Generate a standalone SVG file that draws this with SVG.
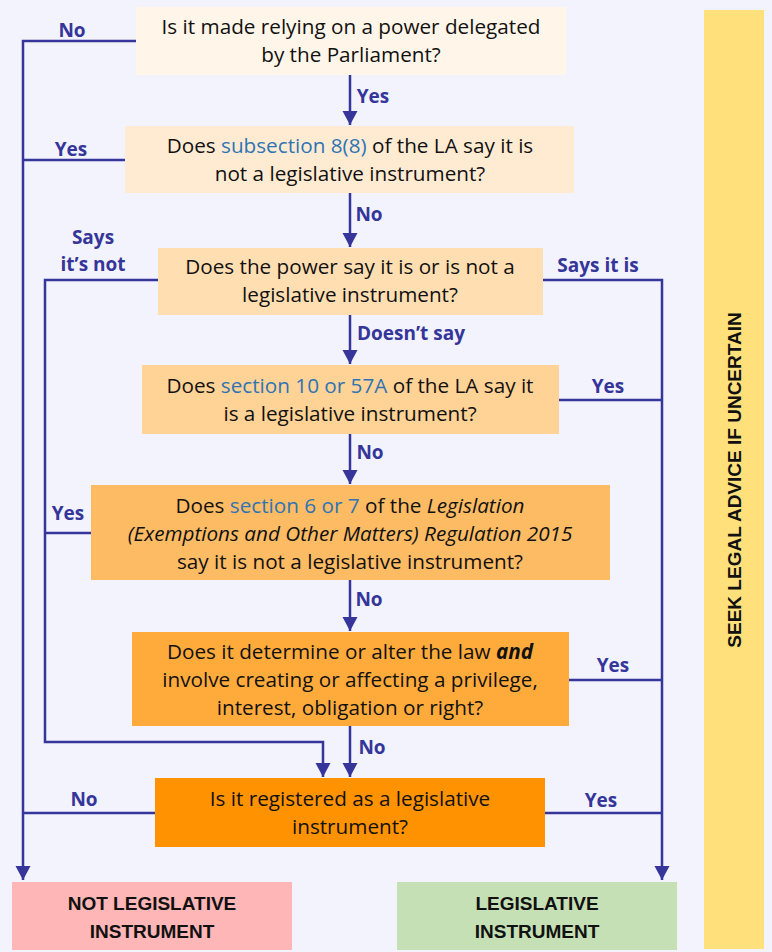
<svg xmlns="http://www.w3.org/2000/svg" width="772" height="952" viewBox="0 0 772 952">
<style>
.q{font-family:"Open Sans","Liberation Sans",Arial,sans-serif;font-size:20.7px;fill:#111;text-anchor:middle}
.lnk{fill:#2E74B5}
.lbl{font-family:"Open Sans","Liberation Sans",Arial,sans-serif;font-size:19px;font-weight:bold;fill:#35359A;text-anchor:middle}
.res{font-family:"Liberation Sans",Arial,sans-serif;font-size:19px;font-weight:bold;fill:#111;text-anchor:middle}
.c{fill:none;stroke:#35359A;stroke-width:2.5}
</style>
<defs>
<marker id="ah" markerUnits="userSpaceOnUse" markerWidth="16" markerHeight="16" refX="14" refY="7.5" orient="auto">
<path d="M0,0 L14,7.5 L0,15 Z" fill="#35359A"/>
</marker>
</defs>
<rect width="772" height="952" fill="#F2F3FC"/>
<g id="advice">
<rect x="704" y="10" width="60" height="939" fill="#FFE07A"/>
<text class="res" transform="translate(741,480) rotate(-90)" font-size="18">SEEK LEGAL ADVICE IF UNCERTAIN</text>
</g>
<g id="connectors">
<path class="c" d="M350,75 V125" marker-end="url(#ah)"/>
<path class="c" d="M350,193 V247" marker-end="url(#ah)"/>
<path class="c" d="M350,315 V364" marker-end="url(#ah)"/>
<path class="c" d="M350,434 V484" marker-end="url(#ah)"/>
<path class="c" d="M350,580 V631" marker-end="url(#ah)"/>
<path class="c" d="M350,726 V777" marker-end="url(#ah)"/>
<path class="c" d="M136,41 H23 V880" marker-end="url(#ah)"/>
<path class="c" d="M125,160 H23"/>
<path class="c" d="M155,813 H23"/>
<path class="c" d="M158,280 H45 V742 H323 V777" marker-end="url(#ah)"/>
<path class="c" d="M91,533 H45"/>
<path class="c" d="M543,280 H662 V880" marker-end="url(#ah)"/>
<path class="c" d="M559,400 H662"/>
<path class="c" d="M569,680 H662"/>
<path class="c" d="M545,813 H662"/>
<text class="lbl" x="72" y="37">No</text>
<text class="lbl" x="373" y="103">Yes</text>
<text class="lbl" x="71" y="156">Yes</text>
<text class="lbl" x="369" y="221">No</text>
<text class="lbl" x="93" y="244">Says</text>
<text class="lbl" x="93" y="271">it’s not</text>
<text class="lbl" x="598" y="272">Says it is</text>
<text class="lbl" x="411" y="340">Doesn’t say</text>
<text class="lbl" x="608" y="393">Yes</text>
<text class="lbl" x="370" y="459">No</text>
<text class="lbl" x="68" y="520">Yes</text>
<text class="lbl" x="369" y="606">No</text>
<text class="lbl" x="613" y="672">Yes</text>
<text class="lbl" x="372" y="754">No</text>
<text class="lbl" x="84" y="806">No</text>
<text class="lbl" x="601" y="807">Yes</text>
</g>
<g id="q1">
<rect x="136" y="7" width="430" height="68" fill="#FFF5E8"/>
<text class="q" x="351" y="34">Is it made relying on a power delegated</text>
<text class="q" x="351" y="62">by the Parliament?</text>
</g>
<g id="q2">
<rect x="125" y="126" width="449" height="67" fill="#FFEBD2"/>
<text class="q" x="350" y="153">Does <tspan class="lnk">subsection 8(8)</tspan> of the LA say it is</text>
<text class="q" x="350" y="181">not a legislative instrument?</text>
</g>
<g id="q3">
<rect x="158" y="248" width="385" height="67" fill="#FFDFB2"/>
<text class="q" x="350" y="274">Does the power say it is or is not a</text>
<text class="q" x="350" y="302">legislative instrument?</text>
</g>
<g id="q4">
<rect x="142" y="365" width="417" height="69" fill="#FFD295"/>
<text class="q" x="350" y="393">Does <tspan class="lnk">section 10 or 57A</tspan> of the LA say it</text>
<text class="q" x="350" y="421">is a legislative instrument?</text>
</g>
<g id="q5">
<rect x="91" y="485" width="519" height="95" fill="#FDBB64"/>
<text class="q" x="350" y="513">Does <tspan class="lnk">section 6 or 7</tspan> of the <tspan font-style="italic">Legislation</tspan></text>
<text class="q" x="350" y="541" font-style="italic">(Exemptions and Other Matters) Regulation 2015</text>
<text class="q" x="350" y="569">say it is not a legislative instrument?</text>
</g>
<g id="q6">
<rect x="132" y="632" width="437" height="94" fill="#FFAB3C"/>
<text class="q" x="350" y="659">Does it determine or alter the law <tspan font-weight="bold" font-style="italic">and</tspan></text>
<text class="q" x="350" y="687">involve creating or affecting a privilege,</text>
<text class="q" x="350" y="715">interest, obligation or right?</text>
</g>
<g id="q7">
<rect x="155" y="778" width="390" height="69" fill="#FF9200"/>
<text class="q" x="350" y="806">Is it registered as a legislative</text>
<text class="q" x="350" y="834">instrument?</text>
</g>
<g id="not-li">
<rect x="12" y="882" width="280" height="68" fill="#FFB6B6"/>
<text class="res" x="152" y="910">NOT LEGISLATIVE</text>
<text class="res" x="152" y="938">INSTRUMENT</text>
</g>
<g id="li">
<rect x="397" y="882" width="280" height="68" fill="#C5E0B4"/>
<text class="res" x="537" y="910">LEGISLATIVE</text>
<text class="res" x="537" y="938">INSTRUMENT</text>
</g>
</svg>
